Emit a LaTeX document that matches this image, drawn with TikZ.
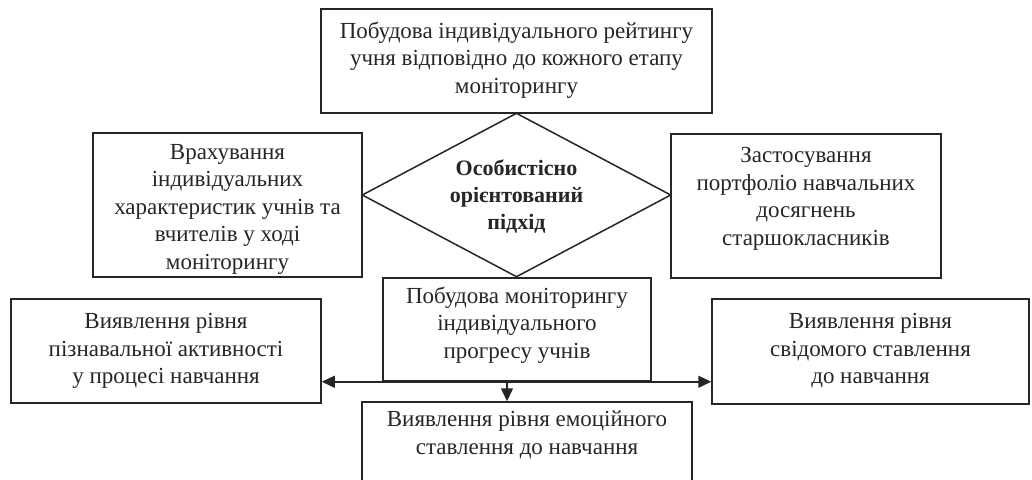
\documentclass[tikz,border=0pt]{standalone}
\usepackage{fontspec}
\setmainfont{Liberation Serif}
\usetikzlibrary{shapes.geometric,arrows.meta,calc}
\tikzset{
  box/.style={draw=black!85, line width=1.5pt, rectangle, inner sep=0pt, fill=none},
  dia/.style={draw=black!85, line width=1.5pt, diamond, aspect=1.884, inner sep=0pt},
  txt/.style={align=center, inner sep=0pt, font=\fontsize{23}{27.5}\selectfont, text=black!85},
  btxt/.style={align=center, inner sep=0pt, font=\fontsize{22}{27}\selectfont\bfseries, text=black!85},
  conn/.style={draw=black!85, line width=1.5pt},
  tip/.style={-{Triangle[length=13pt,width=12pt]}}
}
\begin{document}
\begin{tikzpicture}[x=1pt,y=-1pt]
\useasboundingbox (0,0) rectangle (1032,479);
\clip (0,0) rectangle (1032,479);
\fill[white] (0,0) rectangle (1032,479);
% boxes
\node[box, minimum width=391pt, minimum height=104pt] (A) at (516.5,61) {};
\node[box, minimum width=269pt, minimum height=144pt] (L) at (227.5,205) {};
\node[box, minimum width=270pt, minimum height=144pt] (R) at (806,206) {};
\node[dia, minimum width=309pt, minimum height=164pt] (D) at (516.5,195) {};
\node[box, minimum width=268pt, minimum height=103pt] (M) at (517,329.5) {};
\node[box, minimum width=310pt, minimum height=104pt] (BL) at (166,351) {};
\node[box, minimum width=317pt, minimum height=105pt] (BR) at (870.5,351.5) {};
\node[box, minimum width=330pt, minimum height=100pt] (B) at (527,452) {};
% texts
\node[txt] (At) at (516.5,60) {Побудова індивідуального рейтингу\\учня відповідно до кожного етапу\\моніторингу};
\node[txt] (Lt) at (227.5,209) {Врахування\\індивідуальних\\характеристик учнів та\\вчителів у ході\\моніторингу};
\node[txt] (Rt) at (806,199) {Застосування\\портфоліо навчальних\\досягнень\\старшокласників};
\node[btxt] (Dt) at (516.5,197) {Особистісно\\орієнтований\\підхід};
\node[txt] (Mt) at (517,325) {Побудова моніторингу\\індивідуального\\прогресу учнів};
\node[txt] (BLt) at (166,351) {Виявлення рівня\\пізнавальної активності\\у процесі навчання};
\node[txt] (BRt) at (870.5,351) {Виявлення рівня\\свідомого ставлення\\до навчання};
\node[txt] (Bt) at (527,435) {Виявлення рівня емоційного\\ставлення до навчання};
% connectors
\draw[conn,{Triangle[length=13pt,width=12pt]}-{Triangle[length=13pt,width=12pt]}] (BL.east |- M.south) -- (BR.west |- M.south);
\coordinate (dA) at (507,381);
\draw[conn,tip] (dA) -- (dA |- B.north);
\end{tikzpicture}
\end{document}
